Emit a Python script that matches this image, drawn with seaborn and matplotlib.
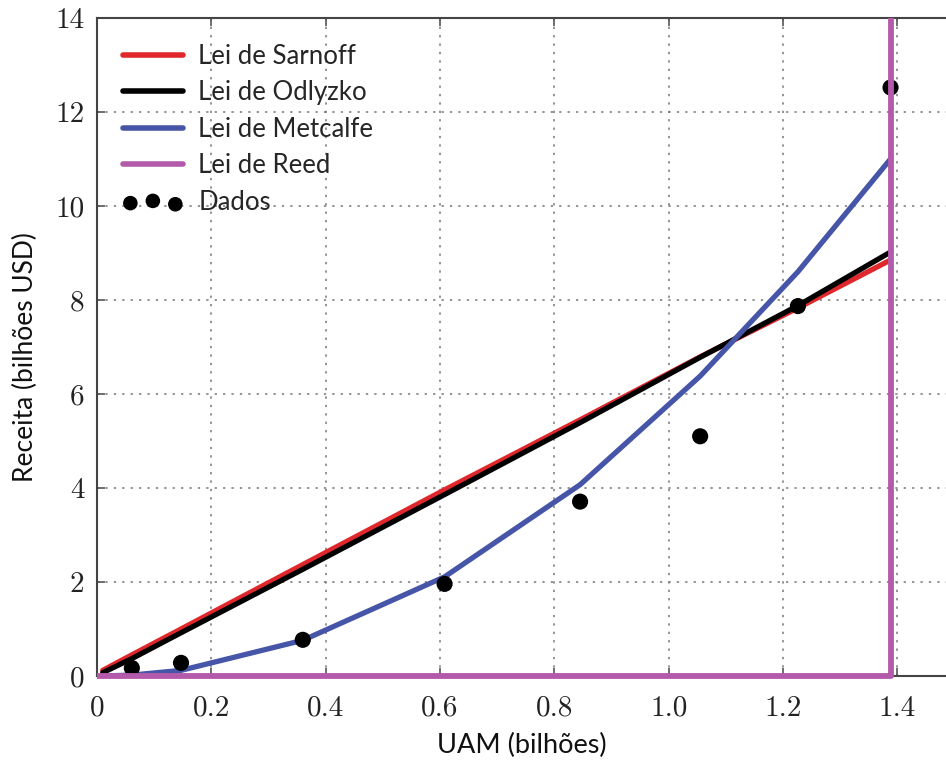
import matplotlib
matplotlib.use("Agg")
import matplotlib.pyplot as plt
from matplotlib.transforms import Bbox, TransformedBbox
import seaborn as sns
import pandas as pd

# ---- data ----
uam = [0.01, 0.061, 0.147, 0.36, 0.608, 0.845, 1.055, 1.226, 1.388]
sarnoff = [0.12, 0.45, 1.00, 2.37, 3.96, 5.45, 6.79, 7.83, 8.85]
odlyzko = [0.07, 0.37, 0.92, 2.27, 3.86, 5.39, 6.78, 7.88, 9.02]
metcalfe = [0.00, 0.02, 0.12, 0.76, 2.11, 4.07, 6.38, 8.60, 11.00]
reed_x = [0.0, 0.061, 0.147, 0.36, 0.608, 0.845, 1.055, 1.226, 1.388, 1.388]
reed = [0.0, 0.0, 0.0, 0.0, 0.0, 0.0, 0.0, 0.0, 0.0, 100000.0]

data_x = [0.061, 0.147, 0.36, 0.608, 0.845, 1.055, 1.226, 1.388]
data_y = [0.17, 0.28, 0.77, 1.96, 3.71, 5.10, 7.87, 12.52]

x_ticks = [0, 0.2, 0.4, 0.6, 0.8, 1.0, 1.2, 1.4]
x_ticklabels = ["0", "0.2", "0.4", "0.6", "0.8", "1.0", "1.2", "1.4"]
y_ticks = [0, 2, 4, 6, 8, 10, 12, 14]
y_ticklabels = ["0", "2", "4", "6", "8", "10", "12", "14"]

labels = ["Lei de Sarnoff", "Lei de Odlyzko", "Lei de Metcalfe", "Lei de Reed", "Dados"]
colors = ["#e0282c", "#000000", "#4655a8", "#b35aab"]

sns.set_style("white")
plt.rcParams["font.family"] = ["Lato", "DejaVu Sans"]

fig = plt.figure(figsize=(9.46, 7.63), dpi=100)
ax = fig.add_axes([0.1025, 0.114, 0.8975, 0.8625])

lines_df = pd.DataFrame({"x": uam, "sarnoff": sarnoff, "odlyzko": odlyzko,
                         "metcalfe": metcalfe})
reed_df = pd.DataFrame({"x": reed_x, "reed": reed})
sns.lineplot(data=lines_df, x="x", y="sarnoff", color=colors[0], lw=3.8,
             ax=ax, label=labels[0], zorder=3)
sns.lineplot(data=lines_df, x="x", y="odlyzko", color=colors[1], lw=3.8,
             ax=ax, label=labels[1], zorder=4)
sns.lineplot(data=lines_df, x="x", y="metcalfe", color=colors[2], lw=3.8,
             ax=ax, label=labels[2], zorder=5)
sns.lineplot(data=reed_df, x="x", y="reed", color=colors[3], lw=4.2,
             ax=ax, label=labels[3], zorder=7, estimator=None, sort=False)
reed_line = ax.get_lines()[-1]
reed_line.set_clip_box(TransformedBbox(Bbox([[0, -0.012], [1, 1]]), ax.transAxes))
pts_df = pd.DataFrame({"x": data_x, "y": data_y})
sns.scatterplot(data=pts_df, x="x", y="y", color="black", s=135,
                edgecolor="none", ax=ax, label=labels[4], zorder=6)

ax.set_xlim(0, 1.485)
ax.set_ylim(0, 14)
ax.set_xticks(x_ticks)
ax.set_xticklabels(x_ticklabels)
ax.set_yticks(y_ticks)
ax.set_yticklabels(y_ticklabels)
for lab in ax.get_xticklabels() + ax.get_yticklabels():
    lab.set_fontfamily("cmr10")
    lab.set_fontsize(21)
    lab.set_color("#222222")

ax.tick_params(axis="both", direction="in", length=6, width=1.2,
               color="#555555", top=True, bottom=True, left=True, right=False)
ax.tick_params(axis="x", pad=14)
ax.tick_params(axis="y", pad=9)

ax.grid(True, linestyle=(0, (1.5, 4)), color="#777777", linewidth=1.1)
ax.set_axisbelow(True)

for side in ["left", "top", "bottom"]:
    ax.spines[side].set_visible(True)
    ax.spines[side].set_color("#444444")
    ax.spines[side].set_linewidth(1.5)
ax.spines["right"].set_visible(False)

ax.set_xlabel("UAM (bilhões)", fontsize=19.5, labelpad=8, color="#111111")
ax.set_ylabel("Receita (bilhões USD)", fontsize=19, color="#111111")
ax.yaxis.set_label_coords(-0.07, 0.485)

leg = ax.legend(loc="upper left", bbox_to_anchor=(0.0, 1.0), frameon=False,
                fontsize=18.5, handlelength=2.35, handletextpad=0.6,
                labelspacing=0.45, scatterpoints=3, borderpad=0.5,
                borderaxespad=0.5)
for h in leg.legend_handles:
    try:
        h.set_sizes([110])
    except AttributeError:
        h.set_linewidth(4.0)

fig.savefig("out.png", dpi=100)
